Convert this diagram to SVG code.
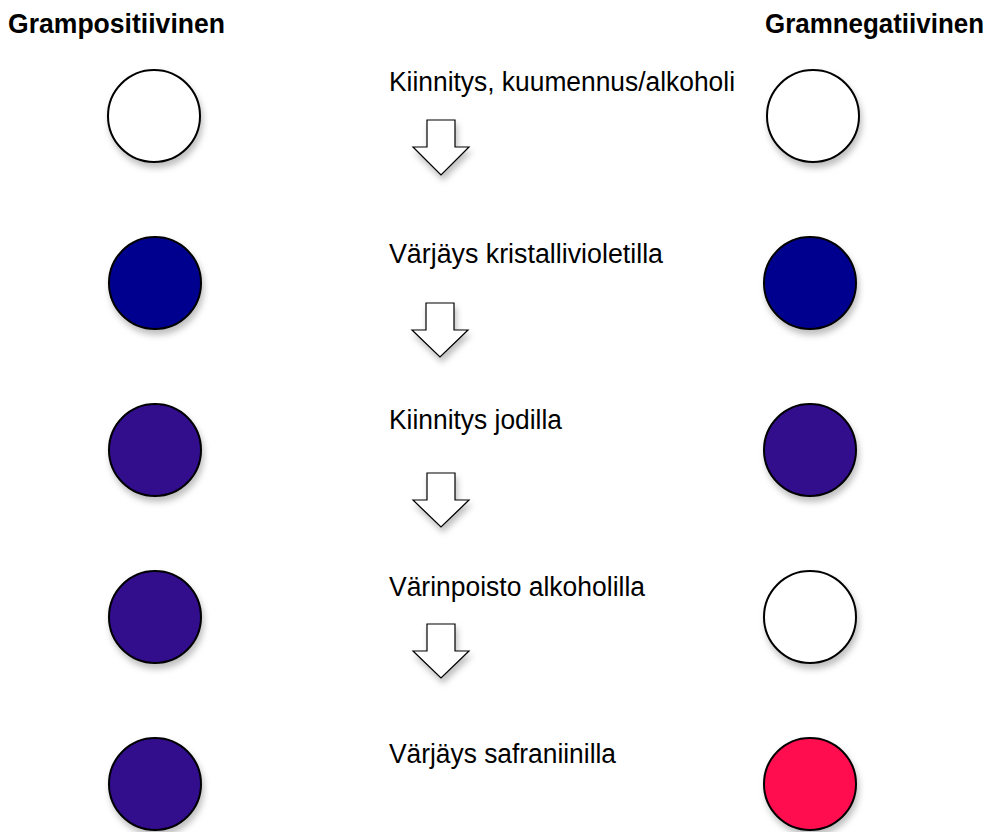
<svg xmlns="http://www.w3.org/2000/svg" width="993" height="832" viewBox="0 0 993 832">
<defs>
<filter id="sh" x="-30%" y="-30%" width="160%" height="170%">
<feDropShadow dx="2" dy="5" stdDeviation="3" flood-color="#000" flood-opacity="0.25"/>
</filter>
<style>
.h{font-family:"Liberation Sans",Arial,sans-serif;font-weight:bold;font-size:27px;fill:#000}
.t{font-family:"Liberation Sans",Arial,sans-serif;font-size:27px;fill:#000}
.c{stroke:#000;stroke-width:2;filter:url(#sh)}
.w{fill:#fff}
.b{fill:#00008E}
.p{fill:#300A8C}
.r{fill:#FF0A50}
.a{fill:#fff;stroke:#000;stroke-width:1.2;stroke-linejoin:miter;filter:url(#sh)}
</style>
</defs>
<rect width="993" height="832" fill="#fff"/>
<g id="headers">
<text class="h" x="8" y="33" textLength="217" lengthAdjust="spacingAndGlyphs">Grampositiivinen</text>
<text class="h" x="765" y="33" textLength="219" lengthAdjust="spacingAndGlyphs">Gramnegatiivinen</text>
</g>
<g id="left">
<circle class="c w" cx="154" cy="116" r="46"/>
<circle class="c b" cx="155" cy="283" r="46"/>
<circle class="c p" cx="155" cy="450" r="46"/>
<circle class="c p" cx="155" cy="617" r="46"/>
<circle class="c p" cx="155" cy="784" r="46"/>
</g>
<g id="right">
<circle class="c w" cx="813" cy="116" r="46"/>
<circle class="c b" cx="810" cy="283" r="46"/>
<circle class="c p" cx="810" cy="450" r="46"/>
<circle class="c w" cx="810" cy="617" r="46"/>
<circle class="c r" cx="810" cy="784" r="46"/>
</g>
<g id="steps">
<text class="t" x="389" y="91" textLength="346" lengthAdjust="spacingAndGlyphs">Kiinnitys, kuumennus/alkoholi</text>
<text class="t" x="389" y="263" textLength="274" lengthAdjust="spacingAndGlyphs">Värjäys kristallivioletilla</text>
<text class="t" x="389" y="429" textLength="173" lengthAdjust="spacingAndGlyphs">Kiinnitys jodilla</text>
<text class="t" x="389" y="596" textLength="256" lengthAdjust="spacingAndGlyphs">Värinpoisto alkoholilla</text>
<text class="t" x="389" y="763" textLength="227" lengthAdjust="spacingAndGlyphs">Värjäys safraniinilla</text>
</g>
<g id="connectors">
<path class="a" d="M427,120 H455 V147 H469 L441,175 L413,147 H427 Z"/>
<path class="a" d="M426,303 H454 V330 H468 L440,357 L412,330 H426 Z"/>
<path class="a" d="M427,473 H455 V500 H469 L441,527 L413,500 H427 Z"/>
<path class="a" d="M427,624 H455 V651 H469 L441,678 L413,651 H427 Z"/>
</g>
</svg>
